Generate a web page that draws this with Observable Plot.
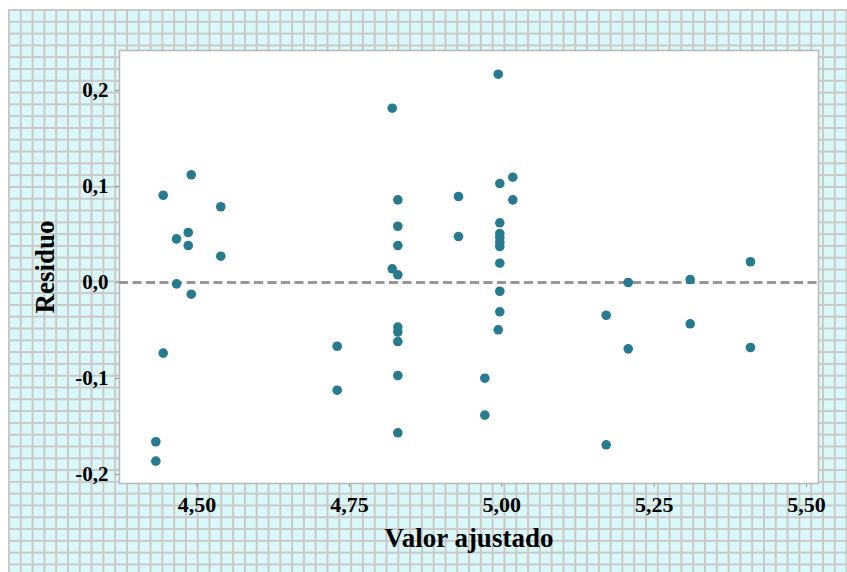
<!DOCTYPE html>
<html>
<head>
<meta charset="utf-8">
<script src="https://cdn.jsdelivr.net/npm/d3@7"></script>
<script src="https://cdn.jsdelivr.net/npm/@observablehq/plot@0.6"></script>
<style>
  html, body { margin: 0; padding: 0; background: #ffffff; }
  #wrap { position: relative; width: 847px; height: 572px; overflow: hidden; background: #ffffff; }
  #grid {
    position: absolute; left: 8px; top: 9px; right: 0; bottom: 0;
    background-color: #dbf8f8;
    background-image:
      linear-gradient(to right, #c9c9c9 2px, transparent 2px),
      linear-gradient(to bottom, #c9c9c9 2px, transparent 2px);
    background-size: 11.8px 11.8px;
  }
  #chart { position: absolute; left: 0; top: 0; }
</style>
</head>
<body>
<div id="wrap"><div id="grid"></div><div id="chart"></div></div>
<script>
const fitted = [
  4.4324, 4.4324, 4.4445, 4.4445, 4.4664, 4.4664, 4.4856, 4.4856, 4.4905, 4.4905,
  4.5390, 4.5390, 4.7300, 4.7300, 4.8203, 4.8203, 4.8295, 4.8295, 4.8295, 4.8295,
  4.8295, 4.8295, 4.8295, 4.8295, 4.8295, 4.9290, 4.9290, 4.9722, 4.9722, 4.9942,
  4.9968, 5.0181, 5.0181, 4.9968, 4.9968, 4.9968, 4.9968, 4.9968, 4.9968, 4.9968,
  4.9968, 4.9942, 5.1714, 5.1714, 5.2075, 5.2075, 5.3092, 5.3092, 5.4081, 5.4081
];
const residual = [
  -0.1659, -0.1861, 0.0909, -0.0736, 0.0455, -0.0014, 0.0521, 0.0385, 0.1122, -0.0122,
  0.0789, 0.0274, -0.0664, -0.1122, 0.1816, 0.0143, 0.0861, 0.0586, 0.0385, 0.0080,
  -0.0464, -0.0516, -0.0615, -0.0969, -0.1566, 0.0896, 0.0479, -0.0997, -0.1382, 0.2170,
  0.1031, 0.1097, 0.0861, 0.0622, 0.0510, 0.0469, 0.0417, 0.0375, 0.0201, -0.0091,
  -0.0305, -0.0493, -0.0341, -0.1691, 0.0000, -0.0691, 0.0031, -0.0430, 0.0216, -0.0677
];
const xTicks = [4.5, 4.75, 5.0, 5.25, 5.5];
const xTickLabels = ["4,50", "4,75", "5,00", "5,25", "5,50"];
const yTicks = [-0.2, -0.1, 0, 0.1, 0.2];
const yTickLabels = ["-0,2", "-0,1", "0,0", "0,1", "0,2"];
const xLabel = "Valor ajustado";
const yLabel = "Residuo";

const data = fitted.map((f, i) => ({fitted: f, residual: residual[i]}));

const chart = Plot.plot({
  width: 847,
  height: 572,
  marginLeft: 119,
  marginRight: 29,
  marginTop: 50,
  marginBottom: 89,
  style: {background: "transparent", fontFamily: "'Liberation Serif', 'Times New Roman', serif"},
  x: {domain: [4.3728, 5.5197]},
  y: {domain: [-0.2094, 0.2417]},
  marks: [
    Plot.frame({fill: "white", stroke: "#b8b8b8", strokeWidth: 1.5}),
    Plot.ruleY([0], {stroke: "#979797", strokeWidth: 3, strokeDasharray: "9,4.5"}),
    Plot.dot(data, {x: "fitted", y: "residual", r: 4.8, fill: "#287a8e", stroke: "none"}),
    Plot.axisX({
      ticks: xTicks,
      tickFormat: (d, i) => xTickLabels[xTicks.indexOf(d)],
      tickSize: 4, tickPadding: 9, stroke: "#999",
      fontSize: 22, fontWeight: "bold", fill: "black",
      label: null
    }),
    Plot.axisY({
      ticks: yTicks,
      tickFormat: (d) => yTickLabels[yTicks.findIndex(t => Math.abs(t - d) < 1e-9)],
      tickSize: 4, tickPadding: 7, stroke: "#999",
      fontSize: 21, fontWeight: "bold", fill: "black",
      label: null
    }),
    Plot.text([xLabel], {frameAnchor: "bottom", dy: 55, lineAnchor: "middle", textAnchor: "middle", fontSize: 27, fontWeight: "bold", fill: "black", text: d => d}),
    Plot.text([yLabel], {frameAnchor: "left", dx: -74, rotate: -90, lineAnchor: "middle", textAnchor: "middle", fontSize: 27, fontWeight: "bold", fill: "black", text: d => d})
  ]
});
document.getElementById("chart").appendChild(chart);
</script>
</body>
</html>
